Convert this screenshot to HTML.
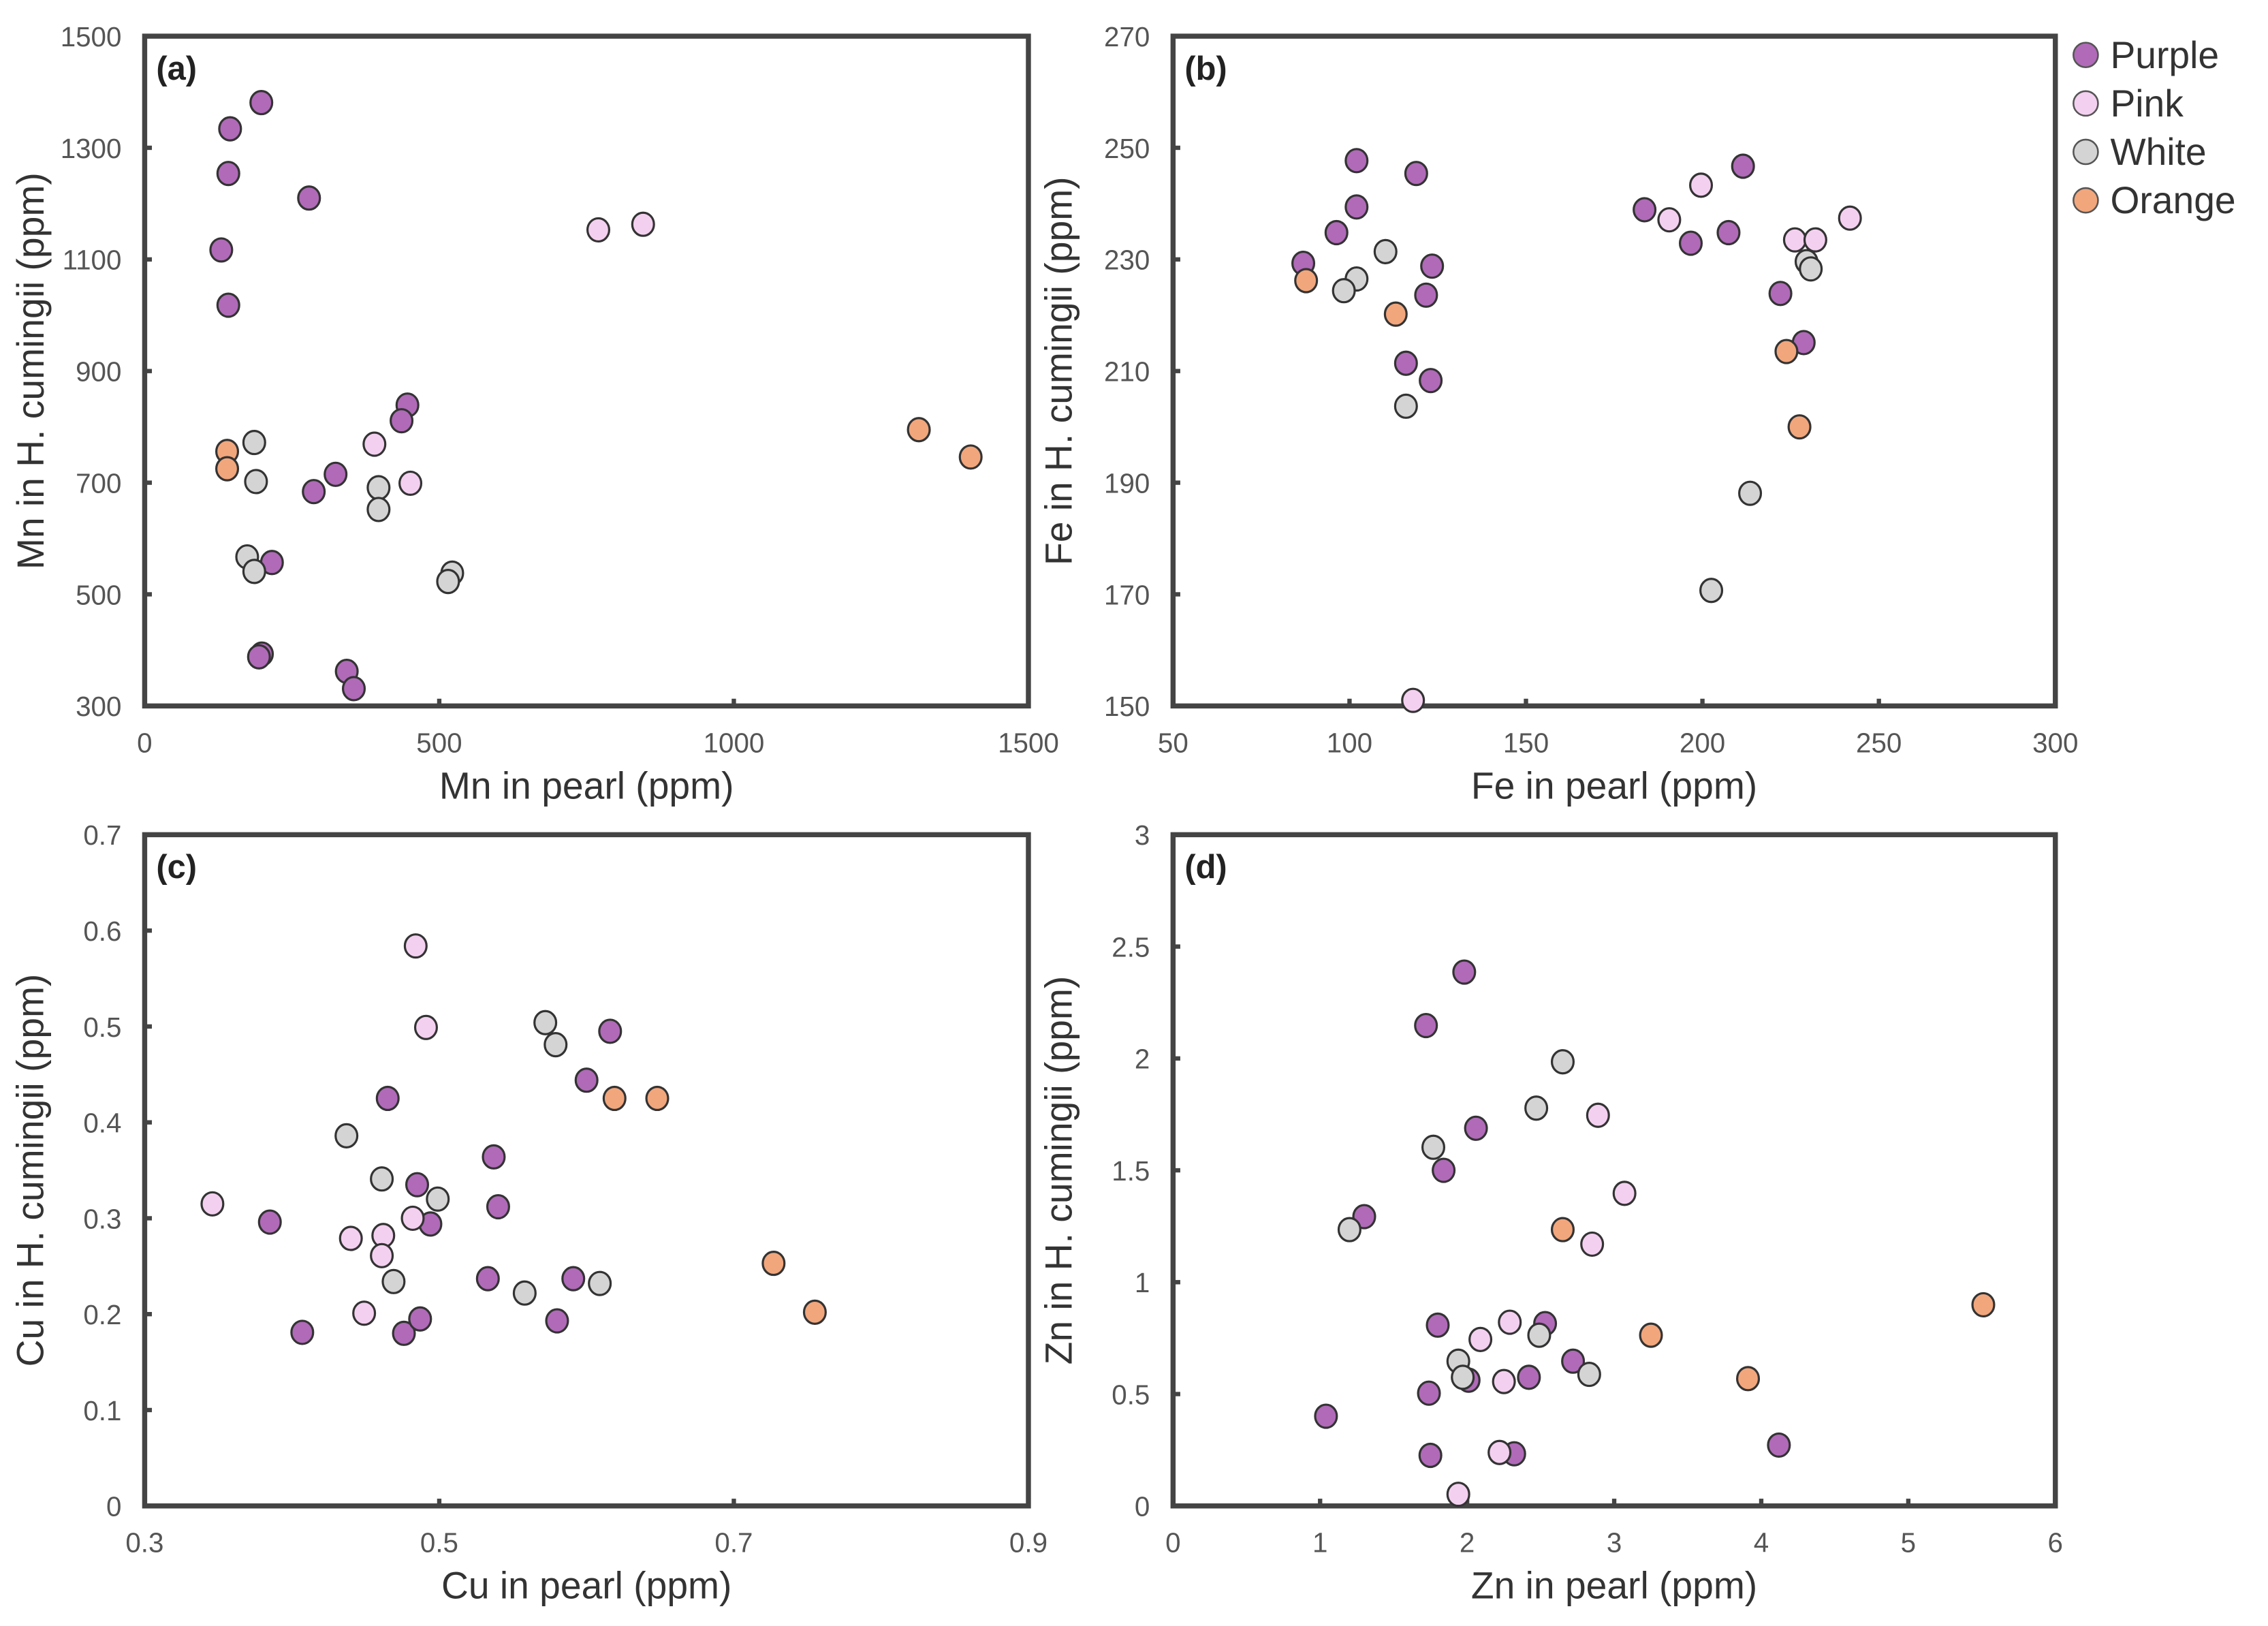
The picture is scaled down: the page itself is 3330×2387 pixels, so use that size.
<!DOCTYPE html>
<html><head><meta charset="utf-8"><style>
html,body{margin:0;padding:0;background:#fff;}
svg{display:block;}
text{font-family:"Liberation Sans",Arial,sans-serif;}
</style></head><body>
<svg id="chart" width="3330" height="2387" viewBox="0 0 1568 1124" xmlns="http://www.w3.org/2000/svg"></svg>
<script>
// Panel (a) Mn
const aPurple = [[198,1381],[145,1334],[142,1254],[130,1117],[142,1018],[279,1210],[446,839],[436,811],[324,715],[287,684],[216,557],[199,393],[194,388],[343,362],[355,331]];
const aPink = [[770,1153],[846,1163],[390,769],[451,699]];
const aWhite = [[186,772],[189,702],[397,691],[397,652],[174,567],[186,541],[522,538],[515,523]];
const aOrange = [[140,756],[140,725],[1314,795],[1402,746]];
const aXTicks = [0,500,1000,1500];
const aYTicks = [300,500,700,900,1100,1300,1500];
// Panel (b) Fe
const bPurple = [[86.9,229.3],[102,247.7],[102,239.4],[96.3,234.8],[118.9,245.4],[123.4,228.8],[121.7,223.6],[116,211.4],[123,208.3],[183.6,238.9],[196.7,232.9],[207.4,234.8],[211.5,246.7],[222.1,223.9],[228.7,215.1]];
const bPink = [[199.6,243.3],[190.6,237.1],[226.2,233.5],[232,233.5],[241.8,237.4],[118,151]];
const bWhite = [[110.2,231.4],[102,226.5],[98.4,224.4],[116,203.7],[229.5,229.6],[230.7,228.3],[213.5,188.1],[202.5,170.7]];
const bOrange = [[87.7,226.2],[113.1,220.2],[223.8,213.5],[227.5,200]];
const bXTicks = [50,100,150,200,250,300];
const bYTicks = [150,170,190,210,230,250,270];
// Panel (c) Cu
const cPurple = [[0.385,0.296],[0.407,0.181],[0.465,0.425],[0.485,0.335],[0.494,0.294],[0.476,0.180],[0.487,0.195],[0.537,0.364],[0.540,0.312],[0.533,0.237],[0.580,0.193],[0.591,0.237],[0.600,0.444],[0.616,0.495]];
const cPink = [[0.346,0.315],[0.484,0.584],[0.491,0.499],[0.440,0.279],[0.462,0.282],[0.461,0.261],[0.482,0.300],[0.449,0.201]];
const cWhite = [[0.437,0.386],[0.461,0.341],[0.499,0.320],[0.469,0.234],[0.572,0.504],[0.579,0.481],[0.558,0.222],[0.609,0.232]];
const cOrange = [[0.619,0.425],[0.648,0.425],[0.727,0.253],[0.755,0.202]];
const cXTicks = [0.3,0.5,0.7,0.9];
const cYTicks = [0,0.1,0.2,0.3,0.4,0.5,0.6,0.7];
// Panel (d) Zn
const dPurple = [[1.98,2.386],[1.72,2.147],[2.06,1.688],[1.84,1.50],[1.30,1.293],[1.80,0.808],[2.53,0.815],[2.72,0.647],[2.42,0.575],[2.01,0.562],[1.74,0.504],[1.04,0.401],[1.75,0.226],[2.32,0.233],[4.12,0.272]];
const dPink = [[2.89,1.746],[3.07,1.397],[2.85,1.170],[2.29,0.821],[2.09,0.744],[2.25,0.556],[2.22,0.239],[1.94,0.052]];
const dWhite = [[2.65,1.985],[2.47,1.778],[1.77,1.603],[1.20,1.235],[1.94,0.647],[1.97,0.575],[2.49,0.763],[2.83,0.588]];
const dOrange = [[2.65,1.235],[3.25,0.763],[3.91,0.569],[5.51,0.899]];
const dXTicks = [0,1,2,3,4,5,6];
const dYTicks = [0,0.5,1,1.5,2,2.5,3];

const legendNames = ["Purple","Pink","White","Orange"];
const colors = {Purple:"#b06ab8",Pink:"#f4d0f0",White:"#d4d4d4",Orange:"#f2a67c"};

const svg = document.getElementById('chart');
const NS = "http://www.w3.org/2000/svg";
function mk(tag, attrs, parent){
  const e = document.createElementNS(NS, tag);
  for (const k in attrs) e.setAttribute(k, attrs[k]);
  (parent||svg).appendChild(e);
  return e;
}
function panel(id, box, xr, yr, xt, yt, series, xTitle, yTitle, fmt){
  const g = mk('g', {});
  
  
  const [x0,y0,x1,y1] = box;
  const sx = v => x0 + (v - xr[0])/(xr[1]-xr[0])*(x1-x0);
  const sy = v => y1 - (v - yr[0])/(yr[1]-yr[0])*(y1-y0);
  xt.forEach(t => {
    const tx = mk('text', {x:sx(t), y:y1+32, 'font-size':19, fill:'#555', 'text-anchor':'middle'}, g);
    tx.textContent = fmt(t);
    
    
    mk('line', {x1:sx(t), x2:sx(t), y1:y1, y2:y1-5, stroke:'#444', 'stroke-width':3}, g);
  });
  yt.forEach(t => {
    const ty = mk('text', {x:x0-16, y:sy(t)+7, 'font-size':19, fill:'#555', 'text-anchor':'end'}, g);
    ty.textContent = fmt(t);
    
    
    mk('line', {x1:x0, x2:x0+5, y1:sy(t), y2:sy(t), stroke:'#444', 'stroke-width':3}, g);
  });
  const fr = mk('rect', {x:x0, y:y0, width:x1-x0, height:y1-y0, fill:'none', stroke:'#444', 'stroke-width':3.5}, g);
  
  
  const pl = mk('text', {x:x0+8, y:y0+30, 'font-size':23, 'font-weight':'bold', fill:'#222'}, g);
  pl.textContent = '(' + id + ')';
  
  
  const xa = mk('text', {x:(x0+x1)/2, y:y1+64, 'font-size':26, fill:'#333', 'text-anchor':'middle'}, g);
  xa.textContent = xTitle;
  
  
  const yc = (y0+y1)/2, xcx = x0-70;
  const ya = mk('text', {x:xcx, y:yc, 'font-size':26, fill:'#333', 'text-anchor':'middle', transform:`rotate(-90 ${xcx} ${yc})`}, g);
  ya.textContent = yTitle;
  
  
  series.forEach(([name, pts]) => {
    pts.forEach(p => {
      const c = mk('ellipse', {cx:sx(p[0]), cy:sy(p[1]), rx:7.5, ry:8, fill:colors[name], stroke:'#333', 'stroke-width':1.5}, g);
      
      
    });
  });
}
panel('a',[100,25,711,488],[0,1500],[300,1500],aXTicks,aYTicks,[['Purple',aPurple],['Pink',aPink],['White',aWhite],['Orange',aOrange]],'Mn in pearl (ppm)','Mn in H. cumingii (ppm)',t=>String(t));
panel('b',[811,25,1421,488],[50,300],[150,270],bXTicks,bYTicks,[['Purple',bPurple],['Pink',bPink],['White',bWhite],['Orange',bOrange]],'Fe in pearl (ppm)','Fe in H. cumingii (ppm)',t=>String(t));
panel('c',[100,577,711,1041],[0.3,0.9],[0,0.7],cXTicks,cYTicks,[['Purple',cPurple],['Pink',cPink],['White',cWhite],['Orange',cOrange]],'Cu in pearl (ppm)','Cu in H. cumingii (ppm)',t=>String(+t.toFixed(2)));
panel('d',[811,577,1421,1041],[0,6],[0,3],dXTicks,dYTicks,[['Purple',dPurple],['Pink',dPink],['White',dWhite],['Orange',dOrange]],'Zn in pearl (ppm)','Zn in H. cumingii (ppm)',t=>String(t));

const lg = mk('g', {});


legendNames.forEach((n, i) => {
  const y = 38 + i*33.5;
  const c = mk('circle', {cx:1442, cy:y, r:8.5, fill:colors[n], stroke:'#555', 'stroke-width':1.2}, lg);
  
  
  const t = mk('text', {x:1459, y:y+9, 'font-size':26, fill:'#333'}, lg);
  t.textContent = n;
  
  
});
</script>
</body></html>
